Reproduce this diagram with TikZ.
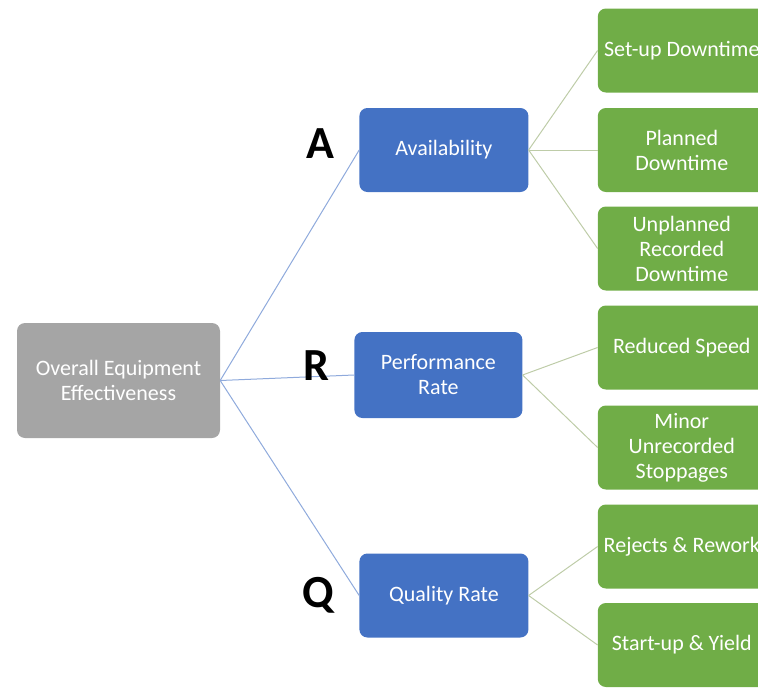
\documentclass[tikz,border=0pt]{standalone}
\usepackage{fontspec}
\setmainfont{Carlito}
\usetikzlibrary{positioning}
\usepackage{xcolor}
\definecolor{OeeGray}{RGB}{165,165,165}
\definecolor{OeeBlue}{RGB}{68,114,196}
\definecolor{OeeGreen}{RGB}{112,173,71}
\definecolor{BlueLink}{RGB}{143,170,220}
\definecolor{GreenLink}{RGB}{190,204,168}

\begin{document}
\begin{tikzpicture}[
          x=1pt, y=1pt,
          rootbox/.style={rectangle, fill=OeeGray, text=white, rounded corners=8pt, minimum width=203pt, minimum height=115pt, align=center, font=\fontsize{22}{25}\selectfont},
          factor/.style={rectangle, fill=OeeBlue, text=white, rounded corners=8pt, minimum width=169pt, minimum height=84pt, align=center, font=\fontsize{22}{25}\selectfont},
          loss/.style={rectangle, fill=OeeGreen, text=white, rounded corners=8pt, minimum width=168pt, minimum height=84pt, align=center, font=\fontsize{22}{25}\selectfont},
          letter/.style={anchor=base, font=\fontsize{46}{46}\selectfont\bfseries},
          rootlink/.style={BlueLink, line width=1pt},
          losslink/.style={GreenLink, line width=1pt}
        ]
          \useasboundingbox (0,0) rectangle (758,-688);
          \clip (0,0) rectangle (758,-688);

          \node (oee) [rootbox] at (118.5,-380.5) {Overall Equipment\\Effectiveness};

          \node (avail) [factor, right=139pt of oee, yshift=230.5pt] {Availability};
          \node (perf) [factor, right=134pt of oee, yshift=5.5pt, minimum width=168pt, minimum height=86pt] {Performance\\Rate};
          \node (qual) [factor, right=139pt of oee, yshift=-215pt] {Quality Rate};

          \node (setup) [loss, right=69pt of avail, yshift=99.5pt] {Set-up Downtime};
          \node (planned) [loss, right=69pt of avail] {Planned\\Downtime};
          \node (unplanned) [loss, right=69pt of avail, yshift=-98.5pt] {Unplanned\\Recorded\\Downtime};

          \node (speed) [loss, right=75pt of perf, yshift=27.5pt] {Reduced Speed};
          \node (minor) [loss, right=75pt of perf, yshift=-72.5pt] {Minor\\Unrecorded\\Stoppages};

          \node (rejects) [loss, right=69pt of qual, yshift=49pt] {Rejects \& Rework};
          \node (startup) [loss, right=69pt of qual, yshift=-49.5pt] {Start-up \& Yield};

          \draw [rootlink] (oee.east) -- (avail.west);
          \draw [rootlink] (oee.east) -- (perf.west);
          \draw [rootlink] (oee.east) -- (qual.west);

          \draw [losslink] (avail.east) -- (setup.west);
          \draw [losslink] (avail.east) -- (planned.west);
          \draw [losslink] (avail.east) -- (unplanned.west);
          \draw [losslink] (perf.east) -- (speed.west);
          \draw [losslink] (perf.east) -- (minor.west);
          \draw [losslink] (qual.east) -- (rejects.west);
          \draw [losslink] (qual.east) -- (startup.west);

          \node (letA) [letter] at (320,-158) {A};
          \node (letR) [letter] at (316,-380) {R};
          \node (letQ) [letter] at (318,-607) {Q};
        \end{tikzpicture}
\end{document}
